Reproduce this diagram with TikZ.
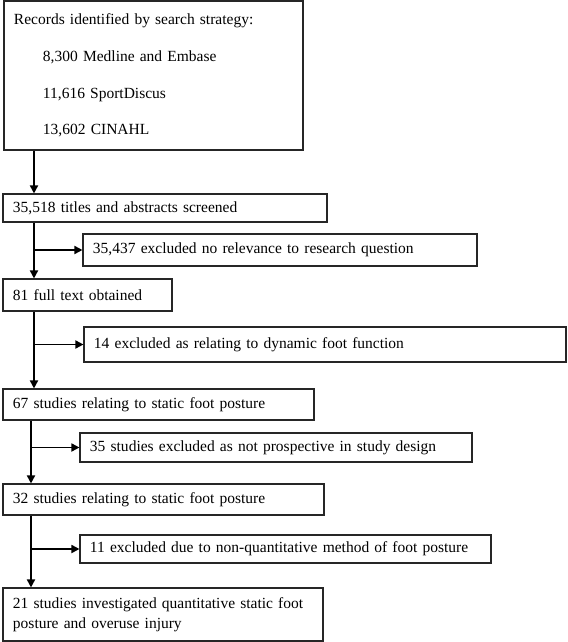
\documentclass[tikz,border=0pt]{standalone}
\usepackage{fontspec}
\setmainfont{Liberation Serif}
\usetikzlibrary{arrows.meta}
\begin{document}
\begin{tikzpicture}[x=1bp,y=-1bp,
  box/.style={draw=black!85, line width=1.1bp, inner xsep=10bp, inner ysep=0pt,
    align=left, anchor=center, font=\fontsize{15.5bp}{20bp}\selectfont},
  arr/.style={draw=black, line width=1.7bp, -{Triangle[length=8bp,width=8bp]}}]
\useasboundingbox (0,0) rectangle (568,642);
\node[box, text width=279bp, minimum height=149bp, font=\fontsize{15.5bp}{36.7bp}\selectfont] (top) at (153.5,75.5)
  {Records identified by search strategy:\\
   \hspace*{29bp}8,300 Medline and Embase\\
   \hspace*{29bp}11,616 SportDiscus\\
   \hspace*{29bp}13,602 CINAHL};
\node[box, text width=304bp, minimum height=28bp] (b2) at (165,208) {35,518 titles and abstracts screened};
\node[box, text width=374bp, minimum height=32bp] (e1) at (280,250) {35,437 excluded no relevance to research question};
\node[box, text width=149bp, minimum height=32bp] (b3) at (87.5,295) {81 full text obtained};
\node[box, text width=462bp, minimum height=35bp] (e2) at (325,344.5) {14 excluded as relating to dynamic foot function};
\node[box, text width=291bp, minimum height=31bp] (b4) at (158.5,404.5) {67 studies relating to static foot posture};
\node[box, text width=372bp, minimum height=29bp] (e3) at (276,447.5) {35 studies excluded as not prospective in study design};
\node[box, text width=301bp, minimum height=31bp] (b5) at (163.5,499.5) {32 studies relating to static foot posture};
\node[box, text width=391bp, minimum height=28bp] (e4) at (285.5,549) {11 excluded due to non-quantitative method of foot posture};
\node[box, text width=300bp, minimum height=53bp] (b6) at (163,614.5) {21 studies investigated quantitative static foot\\posture and overuse injury};
\coordinate (xa) at (34,0);
\coordinate (xb) at (31,0);
\draw[arr] (top.south -| xa) -- (b2.north -| xa);
\draw[arr] (b2.south -| xa) -- (b3.north -| xa);
\draw[arr] (e1.west -| xa) -- (e1.west);
\draw[arr] (b3.south -| xa) -- (b4.north -| xa);
\draw[arr] (e2.west -| xa) -- (e2.west);
\draw[arr] (b4.south -| xb) -- (b5.north -| xb);
\draw[arr] (e3.west -| xb) -- (e3.west);
\draw[arr] (b5.south -| xb) -- (b6.north -| xb);
\draw[arr] (e4.west -| xb) -- (e4.west);
\end{tikzpicture}
\end{document}
